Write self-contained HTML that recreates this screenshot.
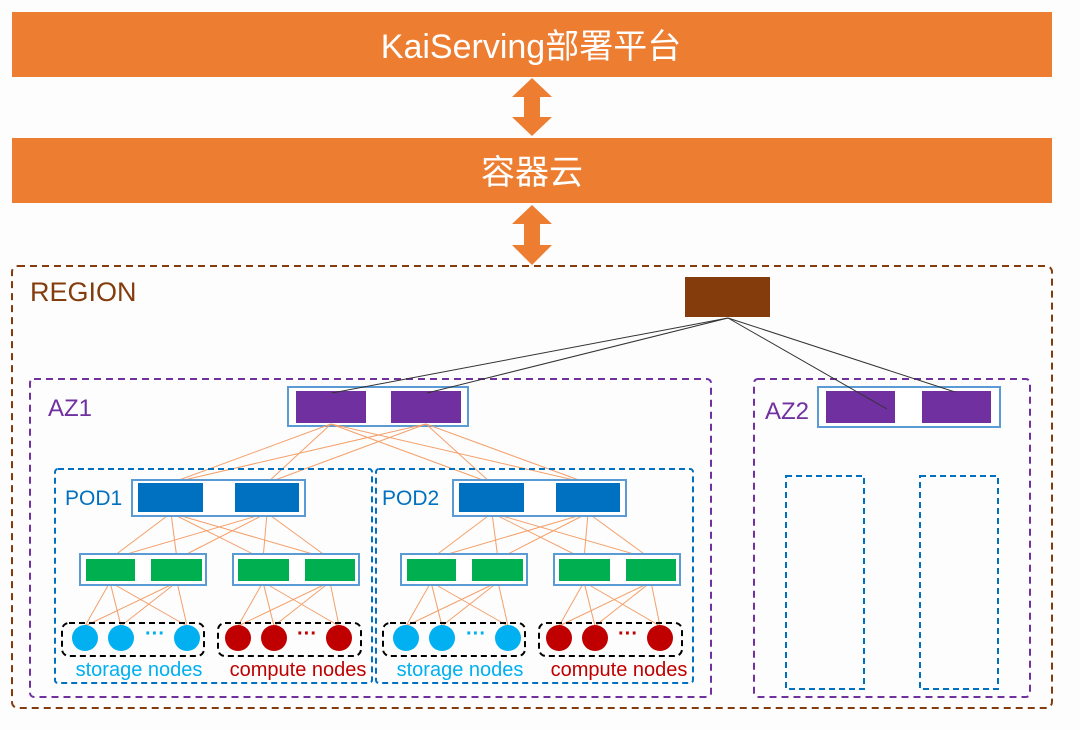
<!DOCTYPE html>
<html><head><meta charset="utf-8"><style>
html,body{margin:0;padding:0;background:#fff;}
svg{display:block;}
text{font-family:"Liberation Sans","Noto Sans CJK SC",sans-serif;}
</style></head><body>
<svg width="1080" height="730" viewBox="0 0 1080 730" xmlns="http://www.w3.org/2000/svg">
<rect x="0" y="0" width="1080" height="730" fill="#fdfdfd"/>
<rect x="12" y="12" width="1040" height="65" fill="#ED7D31"/>
<text x="531" y="58" font-size="34" fill="#fff" text-anchor="middle">KaiServing部署平台</text>
<rect x="12" y="138" width="1040" height="65" fill="#ED7D31"/>
<text x="532" y="184" font-size="34" fill="#fff" text-anchor="middle">容器云</text>
<polygon points="532,78 552,97 540,97 540,117 552,117 532,136 512,117 524,117 524,97 512,97" fill="#ED7D31"/>
<polygon points="532,205 552,224 540,224 540,245 552,245 532,265 512,245 524,245 524,224 512,224" fill="#ED7D31"/>
<rect x="12" y="266" width="1040" height="442" rx="6" fill="none" stroke="#843C0C" stroke-width="2" stroke-dasharray="7,5"/>
<text x="30" y="301" font-size="27" fill="#843C0C">REGION</text>
<rect x="685" y="277" width="85" height="40" fill="#843C0C"/>
<rect x="30" y="379" width="681" height="318" rx="4" fill="none" stroke="#7030A0" stroke-width="2" stroke-dasharray="7,5"/>
<text x="48" y="416" font-size="24" fill="#7030A0">AZ1</text>
<rect x="288" y="387" width="180" height="39" fill="#fff" stroke="#5B9BD5" stroke-width="2"/>
<rect x="296" y="391" width="70" height="32" fill="#7030A0"/>
<rect x="391" y="391" width="70" height="32" fill="#7030A0"/>
<rect x="754" y="379" width="276" height="318" rx="4" fill="none" stroke="#7030A0" stroke-width="2" stroke-dasharray="7,5"/>
<text x="765" y="419" font-size="24" fill="#7030A0">AZ2</text>
<rect x="818" y="387" width="182" height="40" fill="#fff" stroke="#5B9BD5" stroke-width="2"/>
<rect x="826" y="391" width="69" height="32" fill="#7030A0"/>
<rect x="922" y="391" width="69" height="32" fill="#7030A0"/>
<g stroke="#333" stroke-width="1" fill="none">
<line x1="728" y1="318" x2="332" y2="393"/><line x1="728" y1="318" x2="427" y2="393"/>
<line x1="728" y1="318" x2="887" y2="409"/><line x1="728" y1="318" x2="955" y2="392"/>
</g>
<rect x="786" y="476" width="78" height="213" fill="none" stroke="#0070C0" stroke-width="2" stroke-dasharray="6,4"/>
<rect x="920" y="476" width="78" height="213" fill="none" stroke="#0070C0" stroke-width="2" stroke-dasharray="6,4"/>
<g stroke="#F4A06A" stroke-width="1">
<line x1="331" y1="424" x2="171" y2="483"/><line x1="331" y1="424" x2="267" y2="483"/><line x1="331" y1="424" x2="491" y2="483"/><line x1="331" y1="424" x2="587" y2="483"/>
<line x1="426" y1="424" x2="171" y2="483"/><line x1="426" y1="424" x2="267" y2="483"/><line x1="426" y1="424" x2="491" y2="483"/><line x1="426" y1="424" x2="587" y2="483"/>
</g>
<g id="pod">
<rect x="55" y="469" width="317" height="214" rx="3" fill="none" stroke="#0070C0" stroke-width="2" stroke-dasharray="6,4"/>
<g stroke="#F4A06A" stroke-width="1">
<line x1="171" y1="513" x2="110" y2="559"/><line x1="171" y1="513" x2="177" y2="559"/><line x1="171" y1="513" x2="263" y2="559"/><line x1="171" y1="513" x2="330" y2="559"/>
<line x1="267" y1="513" x2="110" y2="559"/><line x1="267" y1="513" x2="177" y2="559"/><line x1="267" y1="513" x2="263" y2="559"/><line x1="267" y1="513" x2="330" y2="559"/>
<line x1="110" y1="582" x2="85" y2="626"/><line x1="110" y1="582" x2="121" y2="626"/><line x1="110" y1="582" x2="187" y2="626"/>
<line x1="177" y1="582" x2="85" y2="626"/><line x1="177" y1="582" x2="121" y2="626"/><line x1="177" y1="582" x2="187" y2="626"/>
<line x1="263" y1="582" x2="238" y2="626"/><line x1="263" y1="582" x2="274" y2="626"/><line x1="263" y1="582" x2="339" y2="626"/>
<line x1="330" y1="582" x2="238" y2="626"/><line x1="330" y1="582" x2="274" y2="626"/><line x1="330" y1="582" x2="339" y2="626"/>
</g>
<rect x="132" y="480" width="173" height="36" fill="#fff" stroke="#5B9BD5" stroke-width="2"/>
<rect x="138" y="483" width="65" height="29" fill="#0070C0"/>
<rect x="235" y="483" width="64" height="29" fill="#0070C0"/>
<rect x="80" y="554" width="126" height="31" fill="#fff" stroke="#5B9BD5" stroke-width="2"/>
<rect x="86" y="559" width="49" height="22" fill="#00B050"/>
<rect x="151" y="559" width="51" height="22" fill="#00B050"/>
<rect x="233" y="554" width="126" height="31" fill="#fff" stroke="#5B9BD5" stroke-width="2"/>
<rect x="238" y="559" width="51" height="22" fill="#00B050"/>
<rect x="305" y="559" width="50" height="22" fill="#00B050"/>
<rect x="62" y="623" width="142" height="33" rx="7" fill="none" stroke="#000" stroke-width="2" stroke-dasharray="6,4"/>
<circle cx="85" cy="638" r="13" fill="#00B0F0"/><circle cx="121" cy="638" r="13" fill="#00B0F0"/><circle cx="187" cy="638" r="13" fill="#00B0F0"/>
<text x="155" y="640" font-size="20" font-weight="bold" fill="#00B0F0" text-anchor="middle">···</text>
<rect x="218" y="623" width="143" height="33" rx="7" fill="none" stroke="#000" stroke-width="2" stroke-dasharray="6,4"/>
<circle cx="238" cy="638" r="13" fill="#C00000"/><circle cx="274" cy="638" r="13" fill="#C00000"/><circle cx="339" cy="638" r="13" fill="#C00000"/>
<text x="307" y="640" font-size="20" font-weight="bold" fill="#C00000" text-anchor="middle">···</text>
<text x="139" y="676" font-size="20" fill="#00B0F0" text-anchor="middle">storage nodes</text>
<text x="298" y="676" font-size="20" fill="#C00000" text-anchor="middle">compute nodes</text>
</g>
<text x="65" y="505" font-size="21" fill="#0070C0">POD1</text>
<use href="#pod" transform="translate(321,0)"/>
<text x="382" y="505" font-size="21" fill="#0070C0">POD2</text>
</svg>
</body></html>
